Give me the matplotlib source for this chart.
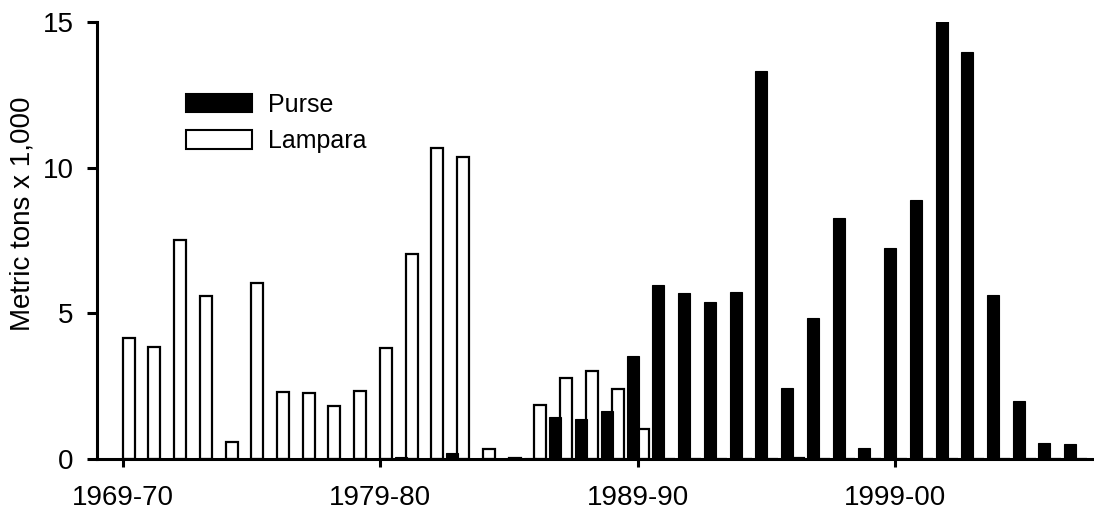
import matplotlib
matplotlib.use("Agg")
import matplotlib.pyplot as plt
from matplotlib.patches import Patch
import numpy as np

plt.rcParams['font.family'] = ['Liberation Sans', 'DejaVu Sans']

seasons = ["1969-70", "1970-71", "1971-72", "1972-73", "1973-74", "1974-75", "1975-76",
           "1976-77", "1977-78", "1978-79", "1979-80", "1980-81", "1981-82", "1982-83",
           "1983-84", "1984-85", "1985-86", "1986-87", "1987-88", "1988-89", "1989-90",
           "1990-91", "1991-92", "1992-93", "1993-94", "1994-95", "1995-96", "1996-97",
           "1997-98", "1998-99", "1999-00", "2000-01", "2001-02", "2002-03", "2003-04",
           "2004-05", "2005-06", "2006-07"]

lampara = [4.15, 3.83, 7.52, 5.61, 0.60, 6.04, 2.29, 2.25, 1.82, 2.33,
           3.81, 7.05, 10.68, 10.38, 0.33, 0.05, 1.84, 2.79, 3.03, 2.41,
           1.02, 0, 0, 0, 0, 0, 0.05, 0, 0, 0,
           0, 0, 0, 0, 0, 0, 0, 0]

purse = [0, 0, 0, 0, 0, 0, 0, 0, 0, 0,
         0, 0.08, 0, 0.20, 0, 0, 0.05, 1.43, 1.37, 1.65,
         3.52, 5.97, 5.69, 5.40, 5.72, 13.32, 2.43, 4.83, 8.26, 0.37,
         7.23, 8.89, 15.05, 13.96, 5.63, 2.00, 0.54, 0.50]

tick_labels = ["1969-70", "1979-80", "1989-90", "1999-00"]
ytick_values = [0, 5, 10, 15]

W, H = 1094, 513
fig = plt.figure(figsize=(W / 100, H / 100), dpi=100)
ax = fig.add_axes([97 / W, (H - 459) / H, 1 - 97 / W, (459 - 22) / H])

x = np.arange(len(seasons))
bw = 0.466
ax.bar(x + 0.225, lampara, width=bw, color='white', edgecolor='black', linewidth=1.6, zorder=2)
ax.bar(x - 0.194, purse, width=bw, color='black', edgecolor='black', linewidth=0.8, zorder=3)

ax.set_xlim(-1.0, 37.73)
ax.set_ylim(0, 15)
ax.set_yticks(ytick_values)
ax.set_yticklabels([str(v) for v in ytick_values])
ax.set_xticks([seasons.index(t) for t in tick_labels])
ax.set_xticklabels(tick_labels)

for s in ['top', 'right']:
    ax.spines[s].set_visible(False)
for s in ['left', 'bottom']:
    ax.spines[s].set_linewidth(2.2)
    ax.spines[s].set_zorder(5)
    ax.spines[s].set_capstyle('projecting')

ax.tick_params(axis='y', length=7, width=2.2, pad=10, labelsize=20)
ax.tick_params(axis='x', length=6, width=2.2, pad=13, labelsize=20)

fig.text(23 / W, 1 - 214 / H, "Metric tons x 1,000", rotation=90, ha='center', va='center',
         fontsize=20)

handles = [Patch(facecolor='black', edgecolor='black', linewidth=1.5, label='Purse'),
           Patch(facecolor='white', edgecolor='black', linewidth=1.5, label='Lampara')]
fig.legend(handles=handles, loc='upper left', bbox_to_anchor=(186 / W, 1 - 93 / H),
           frameon=False, fontsize=18, handlelength=2.64, handleheight=0.74,
           handletextpad=0.66, labelspacing=0.49, borderpad=0, borderaxespad=0)

fig.savefig("out.png", dpi=100)
